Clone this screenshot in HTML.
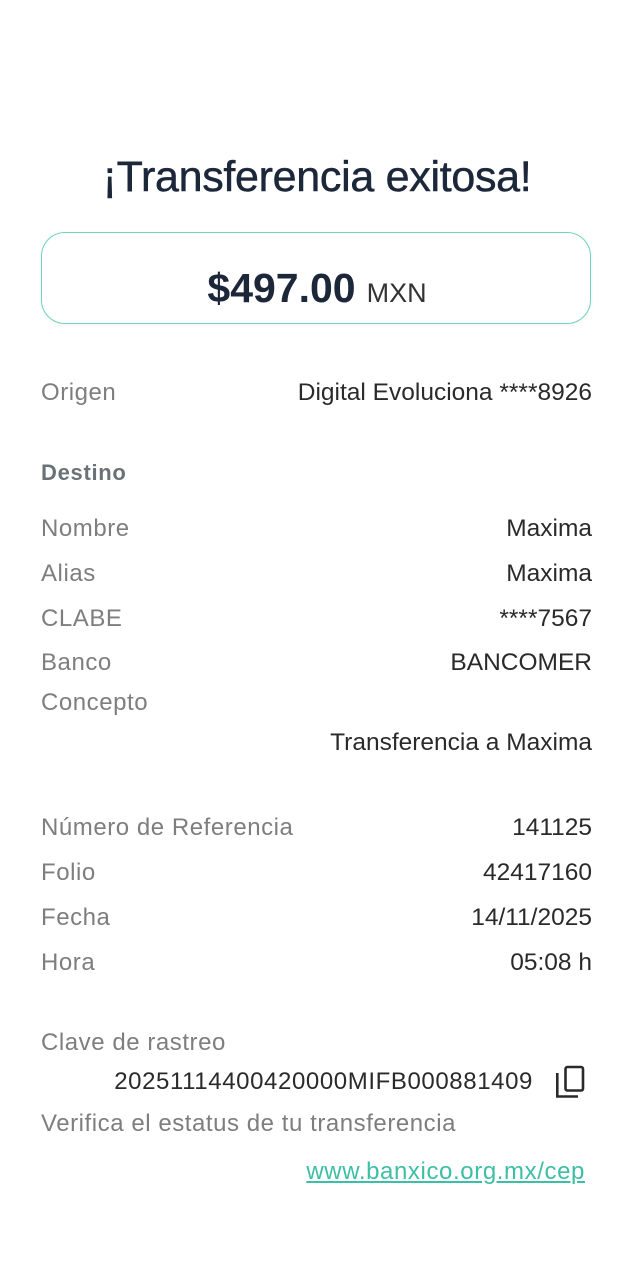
<!DOCTYPE html>
<html>
<head>
<meta charset="utf-8">
<style>
  html,body{margin:0;padding:0;background:#fff;}
  body{width:634px;height:1280px;position:relative;overflow:hidden;font-family:"Liberation Sans",Arial,sans-serif;}
  .t{position:absolute;white-space:nowrap;height:30px;line-height:30px;}
  .lab{left:41px;font-size:24px;color:#7e7e7e;letter-spacing:0.55px;}
  .val{right:42px;font-size:24.5px;color:#2a2a2a;text-align:right;}
  .title{position:absolute;left:0;width:634px;top:152px;height:50px;line-height:50px;text-align:center;font-size:43px;color:#1c2739;letter-spacing:-0.3px;-webkit-text-stroke:0.5px #1c2739;}
  .box{position:absolute;left:41px;top:232px;width:548px;height:90px;border:1.6px solid #6fd4ba;border-radius:24px;box-shadow:0 1px 4px rgba(0,0,0,0.06);}
  .amt{position:absolute;left:0;width:634px;top:263px;height:50px;line-height:50px;text-align:center;color:#1c2739;}
  .amt b{font-size:41px;font-weight:700;}
  .amt span{font-size:27px;color:#333;margin-left:11px;}
</style>
</head>
<body>
  <div class="title">¡Transferencia exitosa!</div>
  <div class="box"></div>
  <div class="amt"><b>$497.00</b><span>MXN</span></div>

  <div class="t lab" style="top:378px;">Origen</div>
  <div class="t val" style="top:378px;">Digital Evoluciona ****8926</div>

  <div class="t lab" style="top:458px;font-weight:700;color:#6a7278;font-size:22px;letter-spacing:0.7px;">Destino</div>

  <div class="t lab" style="top:514px;">Nombre</div>
  <div class="t val" style="top:514px;">Maxima</div>

  <div class="t lab" style="top:559px;">Alias</div>
  <div class="t val" style="top:559px;">Maxima</div>

  <div class="t lab" style="top:604px;">CLABE</div>
  <div class="t val" style="top:604px;">****7567</div>

  <div class="t lab" style="top:648px;">Banco</div>
  <div class="t val" style="top:648px;">BANCOMER</div>

  <div class="t lab" style="top:688px;">Concepto</div>
  <div class="t val" style="top:728px;">Transferencia a Maxima</div>

  <div class="t lab" style="top:813px;">Número de Referencia</div>
  <div class="t val" style="top:813px;">141125</div>

  <div class="t lab" style="top:858px;">Folio</div>
  <div class="t val" style="top:858px;">42417160</div>

  <div class="t lab" style="top:903px;">Fecha</div>
  <div class="t val" style="top:903px;">14/11/2025</div>

  <div class="t lab" style="top:948px;">Hora</div>
  <div class="t val" style="top:948px;">05:08 h</div>

  <div class="t lab" style="top:1028px;">Clave de rastreo</div>
  <div class="t val" style="top:1067px;right:101px;font-size:24px;letter-spacing:0.6px;">20251114400420000MIFB000881409</div>

  <svg style="position:absolute;left:550px;top:1060px;" width="40" height="44" viewBox="0 0 40 44">
    <rect x="15.5" y="7" width="17.5" height="23.5" rx="2" ry="2" fill="none" stroke="#2a2a2a" stroke-width="2.6"/>
    <polyline points="7.3,13 7.3,36.5 28,36.5" fill="none" stroke="#2a2a2a" stroke-width="2.6"/>
  </svg>

  <div class="t lab" style="top:1109px;">Verifica el estatus de tu transferencia</div>
  <div class="t" style="top:1157px;right:49px;font-size:24px;color:#3dbfa5;text-decoration:underline;letter-spacing:0.6px;">www.banxico.org.mx/cep</div>
</body>
</html>
